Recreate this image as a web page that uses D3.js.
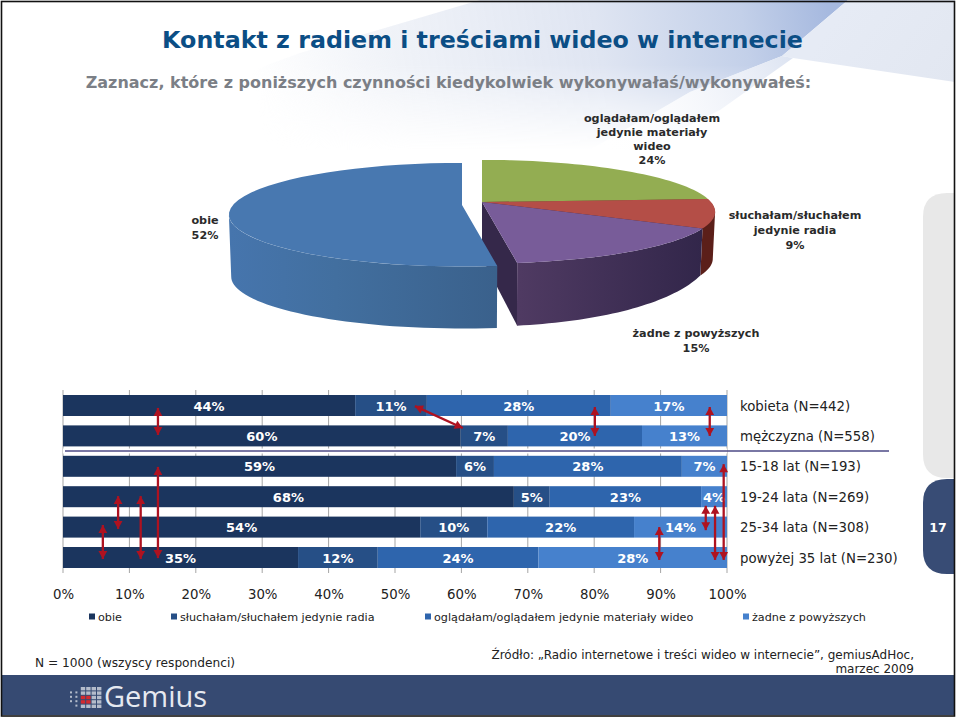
<!DOCTYPE html>
<html><head><meta charset="utf-8">
<script src="https://cdn.jsdelivr.net/npm/d3@7"></script>
<style>html,body{margin:0;padding:0;background:#fff}svg{display:block}text{font-family:"DejaVu Sans",Verdana,sans-serif}</style>
</head><body><svg id="c" width="959" height="718"></svg>
<script>
// ---- data ----
const pieNames = ["oglądałam/oglądałem jedynie materiały wideo","słuchałam/słuchałem jedynie radia","żadne z powyższych","obie"];
const pieValues = [24, 9, 15, 52];
const rowLabels = ["kobieta (N=442)","mężczyzna (N=558)","15-18 lat (N=193)","19-24 lata (N=269)","25-34 lata (N=308)","powyżej 35 lat (N=230)"];
const seriesNames = ["obie","słuchałam/słuchałem jedynie radia","oglądałam/oglądałem jedynie materiały wideo","żadne z powyższych"];
const obie   = [44.0, 59.9, 59.2, 67.9, 53.8, 35.4];
const radio  = [10.8,  7.1,  5.7,  5.4, 10.1, 12.0];
const wideo  = [27.7, 20.2, 28.3, 22.8, 22.1, 24.2];
const zadne  = [17.5, 12.8,  6.8,  3.9, 14.0, 28.4];
const barLabels = [[44,11,28,17],[60,7,20,13],[59,6,28,7],[68,5,23,4],[54,10,22,14],[35,12,24,28]];
const ticks = [0,10,20,30,40,50,60,70,80,90,100];
// significance arrows: [percent1, row1, percent2, row2]
const arrows = [[14.3,.08,14.3,.97],[53,.02,60.2,.74],[80.1,.05,80.1,1],[97.4,.05,97.4,1],
 [14.3,2.02,14.3,5.02],[11.7,2.98,11.7,5.05],[8.3,2.98,8.3,4.06],[6,3.93,6,5.05],
 [99.5,1.93,99.5,5.08],[98.2,3.3,98.2,5.08],[96.8,3.3,96.8,4.1],[89.8,4,89.8,5.08]];
const seriesColors = ["#1b355e","#264f86","#2e65ad","#4681cd"];

const svg = d3.select("#c");
const defs = svg.append("defs");
function grad(id,x1,y1,x2,y2,stops){
  const g=defs.append("linearGradient").attr("id",id).attr("gradientUnits","userSpaceOnUse")
    .attr("x1",x1).attr("y1",y1).attr("x2",x2).attr("y2",y2);
  stops.forEach(s=>g.append("stop").attr("offset",s[0]).attr("stop-color",s[1]).attr("stop-opacity",s[2]===undefined?1:s[2]));
}
// ---- background ----
grad("sw1",260,120,830,20,[[0,"#eef1f7",0],[.25,"#eef1f7",.9],[.6,"#dfe5f2",1],[.85,"#c3d0e9",1],[1,"#a6b9df",1]]);
grad("sw2",850,0,955,80,[[0,"#e6ebf5"],[1,"#e2e7f1"]]);
grad("sw3",600,150,790,55,[[0,"#ffffff",0],[1,"#dde4f2",1]]);
grad("fade",0,65,0,150,[[0,"#fff"],[1,"#000"]]);
defs.append("mask").attr("id","mfade").attr("maskUnits","userSpaceOnUse").attr("x",0).attr("y",0).attr("width",959).attr("height",718)
  .append("rect").attr("width",959).attr("height",718).attr("fill","url(#fade)");
svg.append("rect").attr("width",959).attr("height",718).attr("fill","#fff");
svg.append("path").attr("d","M150,108 L300,53 L480,0 L848,0 L782,56 L690,92 L590,150 L150,150 Z").attr("fill","url(#sw1)").attr("mask","url(#mfade)");
svg.append("path").attr("d","M848,0 L955,0 L955,82 L793,58 L782,56 Z").attr("fill","url(#sw2)");
svg.append("path").attr("d","M590,150 L690,92 L782,56 L793,58 L720,110 L640,150 Z").attr("fill","url(#sw3)");
// right tabs
const tab=(y,h,c)=>svg.append("path").attr("fill",c).attr("d",`M954,${y} H947 Q923,${y} 923,${y+24} V${y+h-24} Q923,${y+h} 947,${y+h} H954 Z`);
tab(193,285,"#e8e8e8"); tab(479,95,"#384c75");
svg.append("text").attr("x",938).attr("y",532).attr("text-anchor","middle").attr("fill","#fff").attr("font-weight","bold").attr("font-size",12.5).text("17");
// footer
svg.append("rect").attr("x",2).attr("y",675).attr("width",952).attr("height",40).attr("fill","#364a72");
// frame
svg.append("rect").attr("x",1.5).attr("y",1.5).attr("width",953).attr("height",714.5).attr("fill","none").attr("stroke","#111").attr("stroke-width",1.6);

// ---- titles ----
svg.append("text").attr("x",482.5).attr("y",48).attr("text-anchor","middle").attr("fill","#0b4e85").attr("font-weight","bold").attr("font-size",23.75).text("Kontakt z radiem i treściami wideo w internecie");
svg.append("text").attr("x",448.5).attr("y",88).attr("text-anchor","middle").attr("fill","#7b7f86").attr("font-weight","bold").attr("font-size",16).text("Zaznacz, które z poniższych czynności kiedykolwiek wykonywałaś/wykonywałeś:");

// ---- 3D pie ----
const R=229,H=50,P=.187;
const arcs=d3.pie().sort(null).value(d=>d)(pieValues);
function proj(a,cx,cy){const X=Math.sin(a),Y=-Math.cos(a),s=1/(1-P*Y);return [cx+R*X*s,cy+H*Y*s,Y];}
const line=d3.line();
const steps=(a0,a1)=>d3.range(0,41).map(i=>a0+(a1-a0)*i/40);
function topFace(arc,cx,cy){return line([[cx,cy],...steps(arc.startAngle,arc.endAngle).map(a=>proj(a,cx,cy).slice(0,2))])+"Z";}
function wall(arc,cx,cy,hf){
  // only the part of the rim between the two silhouette points faces the viewer
  const edge=Math.asin(P);
  const start=Math.max(arc.startAngle,.5*Math.PI+edge), end=Math.min(arc.endAngle,1.5*Math.PI-edge);
  const t=steps(start,end).map(a=>proj(a,cx,cy));
  const pts=t.map(p=>[p[0],p[1]]);
  const bot=t.map(p=>[cx+(p[0]-cx)*.99,p[1]+hf(p[2])]).reverse();
  return line([...pts,...bot])+"Z";
}
const hRight=Y=>Math.max(47,32+31*Y), hBlue=()=>62;
const cR=[482,202], cB=[462,205];
grad("wallB",230,0,495,0,[[0,"#4675ad"],[.4,"#426f9f"],[1,"#3a618c"]]);
grad("wallP",520,0,703,0,[[0,"#4f3a62"],[1,"#32264a"]]);
// green
svg.append("path").attr("d",topFace(arcs[0],cR[0],cR[1]+1.5)).attr("fill","#4f6b2a");
svg.append("path").attr("d",topFace(arcs[0],cR[0],cR[1])).attr("fill","#93ad52");
// red
svg.append("path").attr("d",wall(arcs[1],cR[0],cR[1],hRight)).attr("fill","#5b1f19");
svg.append("path").attr("d",topFace(arcs[1],cR[0],cR[1]+1)).attr("fill","#5b1f19");
svg.append("path").attr("d",topFace(arcs[1],cR[0],cR[1])).attr("fill","#b44e47");
// purple
{
  const rim=proj(arcs[2].endAngle,cR[0],cR[1]);
  svg.append("path").attr("d",line([[cR[0],cR[1]],[rim[0],rim[1]],[rim[0],rim[1]+hRight(rim[2])],[cR[0],cR[1]+56]])+"Z").attr("fill","#35284a");
  svg.append("path").attr("d",wall(arcs[2],cR[0],cR[1],hRight)).attr("fill","url(#wallP)");
  svg.append("path").attr("d",topFace(arcs[2],cR[0],cR[1])).attr("fill","#785c99");
}
// blue
svg.append("path").attr("d",wall(arcs[3],cB[0],cB[1],hBlue)).attr("fill","url(#wallB)");
svg.append("path").attr("d",topFace(arcs[3],cB[0],cB[1])).attr("fill","#4878b0");

function multi(x,y,lines,size,dy){
  const t=svg.append("text").attr("x",x).attr("y",y).attr("text-anchor","middle").attr("font-size",size).attr("font-weight","bold").attr("fill","#2a2a2a");
  lines.forEach((l,i)=>t.append("tspan").attr("x",x).attr("dy",i?dy:0).text(l));
}
multi(652,122,["oglądałam/oglądałem","jedynie materiały","wideo",pieValues[0]+"%"],11.2,14);
multi(795,219,["słuchałam/słuchałem","jedynie radia",pieValues[1]+"%"],11.2,15);
multi(696,337,["żadne z powyższych",pieValues[2]+"%"],11.2,15);
multi(205,224,["obie",pieValues[3]+"%"],11.2,15);

// ---- stacked bars ----
const x=d3.scaleLinear().domain([0,100]).range([63,727]);
const rowStep=30.4,y0=395;
const rowY=r=>y0+10.5+rowStep*r;
const g=svg.append("g");
g.selectAll("line.g").data(ticks).join("line").attr("x1",d=>x(d)).attr("x2",d=>x(d)).attr("y1",390).attr("y2",573).attr("stroke","#a5a5a5").attr("stroke-width",1);
const axis=d3.axisBottom(x).tickValues(ticks).tickSize(0).tickFormat(d=>d+"%");
const ax=svg.append("g").attr("transform","translate(0,587)").call(axis);
ax.select(".domain").remove();
ax.selectAll("text").attr("font-size",13.3).attr("fill","#222").attr("font-family","DejaVu Sans");
const stack=d3.stack().keys([0,1,2,3]).value((d,k)=>d[k])(d3.range(6).map(i=>[obie[i],radio[i],wideo[i],zadne[i]]));
stack.forEach((s,k)=>{
  g.selectAll("rect.s"+k).data(s).join("rect").attr("class","s"+k)
   .attr("x",d=>x(d[0])).attr("width",d=>x(d[1])-x(d[0]))
   .attr("y",(d,i)=>rowY(i)-10.5).attr("height",21).attr("fill",seriesColors[k]);
  g.selectAll("text.s"+k).data(s).join("text").attr("class","s"+k)
   .attr("x",d=>(x(d[0])+x(d[1]))/2).attr("y",(d,i)=>rowY(i)+5)
   .attr("text-anchor","middle").attr("fill","#fff").attr("font-weight","bold").attr("font-size",13)
   .text((d,i)=>barLabels[i][k]+"%");
});
// divider
svg.append("line").attr("x1",63).attr("x2",727).attr("y1",451).attr("y2",451).attr("stroke","#fff").attr("stroke-width",5);
svg.append("line").attr("x1",65).attr("x2",889).attr("y1",451).attr("y2",451).attr("stroke","#4c4a86").attr("stroke-width",1.3);
// row labels
svg.selectAll("text.row").data(rowLabels).join("text").attr("class","row")
 .attr("x",740).attr("y",(d,i)=>rowY(i)+5).attr("font-size",13.3).attr("fill","#222").text(d=>d);
// arrows
const c="#ae1220";
function head(p,q){ // triangle at p pointing away from q
  const a=Math.atan2(p[1]-q[1],p[0]-q[0]),L=8,W=4.4;
  return line([[p[0],p[1]],[p[0]-L*Math.cos(a)-W*Math.sin(a),p[1]-L*Math.sin(a)+W*Math.cos(a)],[p[0]-L*Math.cos(a)+W*Math.sin(a),p[1]-L*Math.sin(a)-W*Math.cos(a)]])+"Z";
}
arrows.forEach(a=>{
  const p=[x(a[0]),rowY(a[1])],q=[x(a[2]),rowY(a[3])];
  svg.append("line").attr("x1",p[0]).attr("y1",p[1]).attr("x2",q[0]).attr("y2",q[1]).attr("stroke",c).attr("stroke-width",2.3);
  svg.append("path").attr("d",head(p,q)).attr("fill",c);
  svg.append("path").attr("d",head(q,p)).attr("fill",c);
});
// legend
const legX=[89,171,425,743];
seriesNames.forEach((n,i)=>{
  svg.append("rect").attr("x",legX[i]).attr("y",613.5).attr("width",6).attr("height",6).attr("fill",seriesColors[i]);
  svg.append("text").attr("x",legX[i]+9).attr("y",621).attr("font-size",11.2).attr("fill","#222").text(n);
});
// notes
svg.append("text").attr("x",35).attr("y",667).attr("font-size",12.2).attr("fill","#222").text("N = 1000 (wszyscy respondenci)");
svg.append("text").attr("x",914).attr("y",659).attr("text-anchor","end").attr("font-size",12).attr("fill","#222").text("Źródło: „Radio internetowe i treści wideo w internecie”, gemiusAdHoc,");
svg.append("text").attr("x",914).attr("y",673).attr("text-anchor","end").attr("font-size",12).attr("fill","#222").text("marzec 2009");
// logo
const logo=svg.append("g");
d3.range(6).forEach(cx=>d3.range(5).forEach(cy=>{
  const red=cx>=2&&cx<=3&&cy>=2&&cy<=3;
  const skip=(cx<2&&cy<1)||(cx==0&&cy>3);
  if(skip)return;
  logo.append("rect").attr("x",70+cx*5.4).attr("y",687+cy*4.4).attr("width",cx<2?2:4.4).attr("height",cx<2?2:3.4)
   .attr("fill",red?"#d42a2f":"#b4bccb");
}));
svg.append("text").attr("x",104).attr("y",707).attr("font-size",29).attr("fill","#e6e9f0").style("font-family","Open Sans").text("Gemius");
</script></body></html>
